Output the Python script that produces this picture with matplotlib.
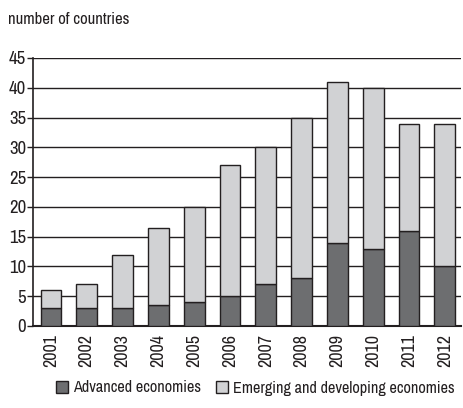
import matplotlib.pyplot as plt
import numpy as np
from matplotlib import font_manager

years = ["2001", "2002", "2003", "2004", "2005", "2006",
         "2007", "2008", "2009", "2010", "2011", "2012"]
advanced = [3, 3, 3, 3.5, 4, 5, 7, 8, 14, 13, 16, 10]
emerging = [3, 4, 9, 13, 16, 22, 23, 27, 27, 27, 18, 24]

# pick a narrow face if one is installed
names = sorted(set(f.name for f in font_manager.fontManager.ttflist))
cond = [n for n in names if 'Narrow' in n or 'Condensed' in n]

plt.rcParams['font.family'] = cond + ['DejaVu Sans']
plt.rcParams['font.stretch'] = 'condensed'
plt.rcParams['font.weight'] = 'light'

fig = plt.figure(figsize=(4.63, 4.08), dpi=100)
ax = fig.add_axes([33 / 463, 82 / 408, 428 / 463, 268 / 408])

x = np.arange(len(years))
ax.bar(x, advanced, width=0.58, color='#6d6e70', edgecolor='#231f20', linewidth=1.0,
       label='Advanced economies', zorder=3)
ax.bar(x, emerging, width=0.58, bottom=advanced, color='#d1d2d4', edgecolor='#231f20',
       linewidth=1.0, label='Emerging and developing economies', zorder=3)

ax.set_xlim(-0.5, 11.45)
ax.set_ylim(0, 45)
ax.set_yticks(range(0, 46, 5))
ax.set_xticks(x)
ax.set_xticklabels(years, rotation=90, fontsize=13, color='#231f20')
ax.tick_params(axis='y', labelsize=13.5, length=4, width=1, colors='#231f20', pad=1)
ax.tick_params(axis='x', length=0, pad=6)
ax.yaxis.grid(True, color='#231f20', linewidth=1.0, zorder=0)
ax.set_axisbelow(True)
for s in ['top', 'right']:
    ax.spines[s].set_visible(False)
ax.spines['left'].set_linewidth(1.2)
ax.spines['bottom'].set_linewidth(1.5)
ax.spines['left'].set_color('#231f20')
ax.spines['bottom'].set_color('#231f20')

fig.text(8 / 463, 1 - 20 / 408, "number of countries", fontsize=12, color='#231f20',
         va='center', ha='left')

fig.legend(loc='center', bbox_to_anchor=(255 / 463, 1 - 388 / 408), ncol=2, frameon=False,
           fontsize=11.7, handlelength=0.75, handleheight=0.75, handletextpad=0.3,
           columnspacing=0.9, labelcolor='#231f20')

fig.savefig("out.png", dpi=100)
